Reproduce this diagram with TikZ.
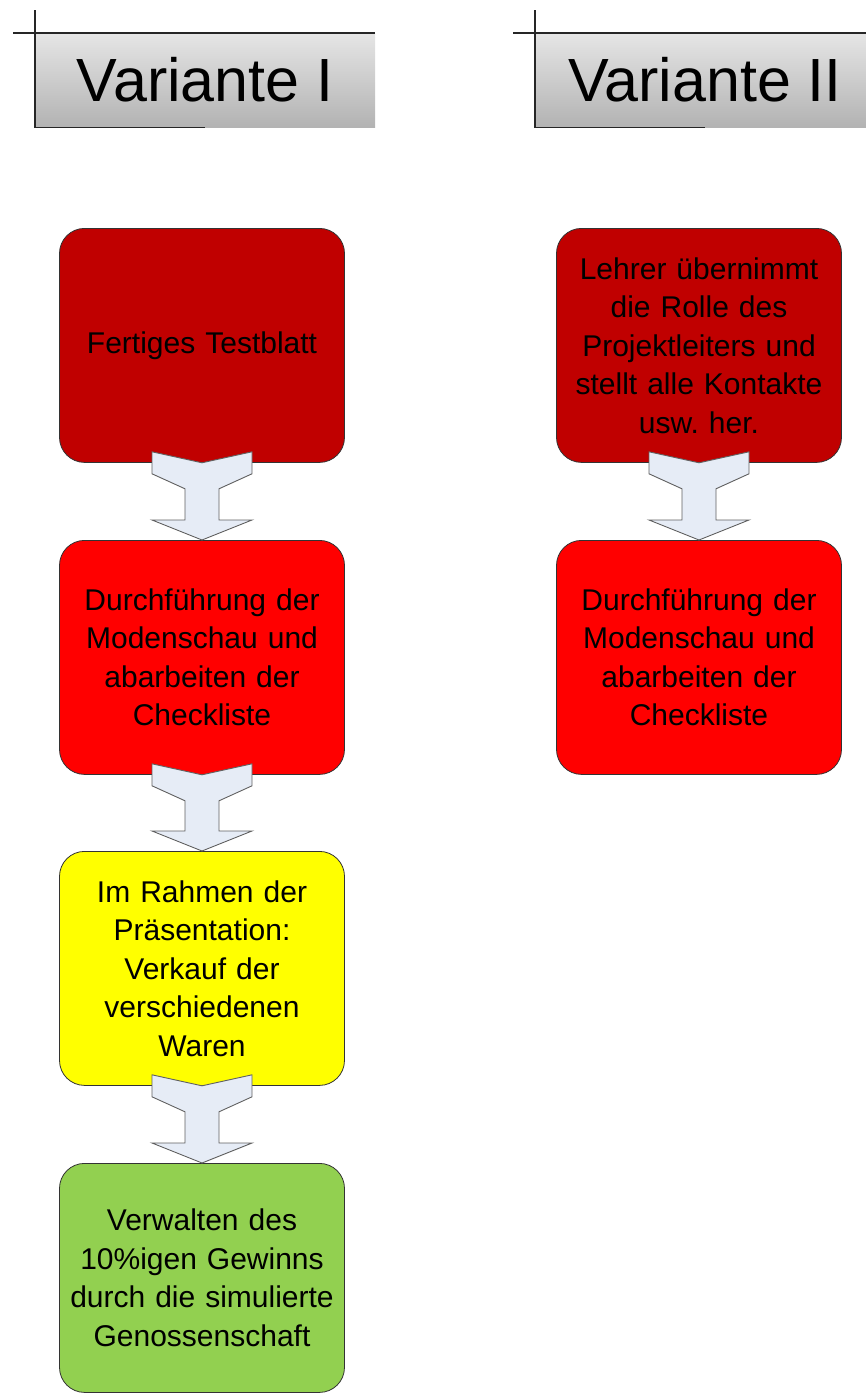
\documentclass[tikz,border=0pt]{standalone}
\usepackage{fontspec}
\setmainfont{Liberation Sans}
\usetikzlibrary{positioning}
\frenchspacing

\definecolor{darkred}{RGB}{192,0,0}
\definecolor{brightred}{RGB}{255,0,0}
\definecolor{brightyellow}{RGB}{255,255,0}
\definecolor{leafgreen}{RGB}{146,208,80}
\definecolor{arrowfill}{RGB}{230,236,246}

\begin{document}
\begin{tikzpicture}[x=1pt, y=-1pt,
    stepbox/.style={draw=black!80, line width=0.8pt, rectangle, rounded corners=25pt,
        minimum width=285pt, minimum height=234pt, text width=270pt, align=center,
        font=\fontsize{30}{38.5}\selectfont},
    header/.style={rectangle, minimum width=340pt, minimum height=94pt, inner sep=0pt,
        top color=gray!20, bottom color=gray!60, font=\fontsize{61}{65}\selectfont},
    frame/.style={line width=1.2pt, black!85},
    flow/.style={draw=gray!75!black, line width=0.9pt, fill=arrowfill, line join=miter}]

    \clip (0,0) rectangle (866,1393);
    \useasboundingbox (0,0) rectangle (866,1393);

    % Headers
    \node[header, anchor=north west] (head1) at (35,33) {\raisebox{2pt}{Variante I}};
    \node[header, anchor=north west] (head2) at (535,33) {\raisebox{2pt}{Variante II}};
    \foreach \h in {head1,head2} {
        \draw[frame] ([xshift=-22pt]\h.north west) -- (\h.north east);
        \draw[frame] ([yshift=23pt]\h.north west) -- (\h.south west) -- ([xshift=170pt]\h.south west);
    }

    % Variante I
    \node[stepbox, fill=darkred, anchor=north] (test) at (202,228) {Fertiges Testblatt};
    \node[stepbox, fill=brightred, anchor=north] (show1) at (202,540)
        {Durchführung der\\ Modenschau und\\ abarbeiten der\\ Checkliste};
    \node[stepbox, fill=brightyellow, anchor=north] (sale) at (202,851)
        {Im Rahmen der\\ Präsentation:\\ Verkauf der\\ verschiedenen\\ Waren};
    \node[stepbox, fill=leafgreen, anchor=north, minimum height=229pt] (profit) at (202,1163)
        {Verwalten des\\ 10\%igen Gewinns\\ durch die simulierte\\ Genossenschaft};

    % Variante II
    \node[stepbox, fill=darkred, anchor=north] (teacher) at (699,228)
        {Lehrer übernimmt\\ die Rolle des\\ Projektleiters und\\ stellt alle Kontakte\\ usw. her.};
    \node[stepbox, fill=brightred, anchor=north] (show2) at (699,540)
        {Durchführung der\\ Modenschau und\\ abarbeiten der\\ Checkliste};

    % Block arrows between the steps
    \foreach \a/\b in {test/show1, show1/sale, sale/profit, teacher/show2} {
        \draw[flow] ([shift={(-50,-11)}]\a.south) -- (\a.south) -- ([shift={(50,-11)}]\a.south)
            -- ([shift={(50,11)}]\a.south) -- ([shift={(17,26)}]\a.south)
            -- ([shift={(17,-20)}]\b.north) -- ([shift={(50,-20)}]\b.north)
            -- (\b.north) -- ([shift={(-50,-20)}]\b.north) -- ([shift={(-17,-20)}]\b.north)
            -- ([shift={(-17,26)}]\a.south) -- ([shift={(-50,11)}]\a.south) -- cycle;
    }
\end{tikzpicture}
\end{document}
